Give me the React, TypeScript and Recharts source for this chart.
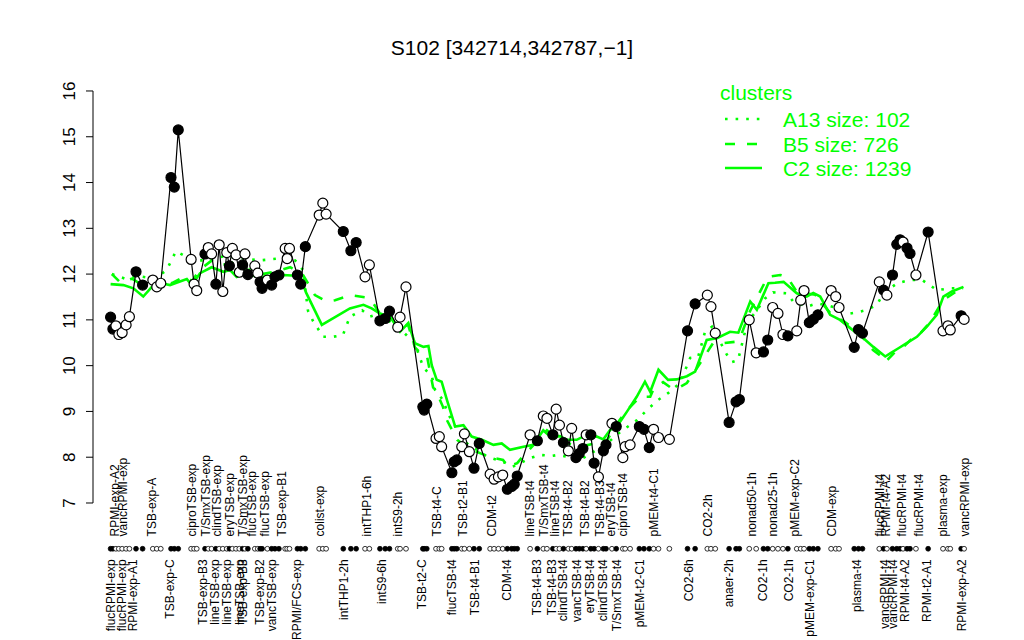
import React from "react";
import { ComposedChart, Line, XAxis, YAxis, ReferenceLine } from "recharts";

const FONT = '"Liberation Sans", Arimo, Arial, Helvetica, sans-serif';
const GREEN = "#00ff00";

// sample slot along the x axis, log2 expression, and marker kind (F = filled, O = open)
const samplePos = [
  2.3, 3.0, 3.9, 4.8, 5.8, 7.0, 8.0, 10.0, 12.0, 15.1,
  16.3, 17.5, 20.6, 21.6, 22.8, 26.7, 27.6, 28.4, 30.9, 31.9,
  32.9, 34.2, 35.2, 36.3, 37.5, 38.3, 39.2, 40.3, 41.3, 42.3,
  43.0, 43.9, 46.0, 46.9, 47.6, 48.2, 49.8, 51.1, 52.1, 53.3,
  55.2, 55.8, 56.5, 58.9, 59.9, 61.3, 65.5, 66.6, 67.6, 72.8,
  75.1, 76.7, 79.4, 80.7, 83.9, 85.5, 86.8, 89.3, 90.0, 91.8,
  96.9, 97.3, 98.1, 100.9, 101.9, 102.6, 105.7, 106.4, 107.2, 108.7,
  109.5, 111.0, 112.4, 114.0, 117.3, 118.5, 119.8, 121.1, 122.5, 123.8,
  124.6, 125.5, 129.4, 131.6, 133.4, 134.5, 136.3, 137.3, 138.3, 139.5,
  141.0, 142.0, 143.3, 144.3, 145.4, 146.4, 147.8, 148.8, 150.1, 151.6,
  152.4, 154.2, 155.5, 157.5, 158.2, 159.7, 162.5, 163.9, 165.5, 166.8,
  168.3, 171.6, 177.1, 179.4, 183.1, 184.2, 185.5, 189.7, 191.8, 192.8,
  195.8, 197.9, 200.1, 201.4, 202.9, 204.5, 206.0, 207.5, 210.2, 211.4,
  212.4, 214.0, 215.2, 216.6, 220.6, 222.0, 223.0, 227.6, 228.9, 230.1,
  235.2, 236.5, 237.5, 239.2, 240.5, 241.5, 242.4, 243.6, 244.5, 246.3,
  250.0, 254.5, 256.0, 256.7, 260.0, 260.9,
];
const sampleExpr = [
  11.06, 10.8, 10.87, 10.68, 10.72, 10.89, 11.07, 12.05, 11.76, 11.87,
  11.72, 11.8, 14.11, 13.9, 15.15, 12.32, 11.78, 11.64, 12.44, 12.58,
  12.44, 11.78, 12.64, 11.62, 12.47, 12.18, 12.56, 12.42, 12.04, 12.2,
  12.44, 11.99, 12.18, 12.02, 11.83, 11.69, 11.87, 11.76, 11.94, 11.98,
  12.56, 12.34, 12.56, 11.98, 11.78, 12.6, 13.29, 13.55, 13.31, 12.93,
  12.51, 12.69, 11.94, 12.2, 10.98, 11.03, 11.19, 10.84, 11.06, 11.72,
  9.1, 9.03, 9.16, 8.41, 8.45, 8.23, 7.66, 7.9, 7.94, 8.23,
  8.51, 8.12, 7.76, 8.3, 7.63, 7.52, 7.57, 7.61, 7.3, 7.36,
  7.41, 7.59, 8.49, 8.36, 8.9, 8.85, 8.49, 9.05, 8.7, 8.32,
  8.14, 8.63, 7.99, 8.08, 8.19, 8.49, 8.49, 7.87, 7.57, 8.14,
  8.27, 8.74, 8.67, 7.99, 8.23, 8.27, 8.67, 8.61, 8.21, 8.61,
  8.43, 8.39, 10.76, 11.35, 11.54, 11.29, 10.71, 8.76, 9.21, 9.26,
  11.0, 10.28, 10.3, 10.56, 11.27, 11.14, 10.68, 10.65, 10.76, 11.43,
  11.64, 10.94, 11.01, 11.11, 11.64, 11.51, 11.27, 10.4, 10.79, 10.71,
  11.83, 11.65, 11.54, 11.98, 12.65, 12.75, 12.7, 12.57, 12.45, 11.98,
  12.92, 10.76, 10.87, 10.78, 11.09, 11.01,
];
const sampleKind =
  "FFOOOOOFFO" + "OOFFFOOOFO" + "OFOOOFOOOF" + "OFOOFFOFFF" + "OOOFFFOOOF" +
  "FFOOFFFOOO" + "FFFOOOFFFO" + "OOFFOOOOFF" + "FFOFOOFOOF" + "OOFFFOFFOF" +
  "FOFOOOFFFO" + "OOFFOOOFFF" + "OOFFOOOFOO" + "OFFFOOOFFF" + "OFOFFFOFFO" + "FOOOFO";

// cluster profiles
const a13Pos = [
  2.7, 6.7, 11.2, 15.8, 19.3, 22.1, 24.2, 27.9, 32.4, 37.0, 41.5, 47.6, 54.5, 58.2, 60.6, 62.1,
  63.6, 66.7, 69.7, 72.7, 74.8, 78.5, 80.9, 83.9, 90.9, 94.5, 97.0, 99.7, 100.6, 103.0, 104.5,
  106.1, 108.2, 110.3, 113.3, 116.7, 119.4, 121.8, 124.0, 126.4, 129.4, 132.4, 136.1, 137.9,
  141.5, 144.5, 148.2, 152.7, 156.7, 161.8, 164.8, 168.2, 171.2, 174.8, 177.9, 180.3, 182.4,
  184.5, 189.1, 190.6, 192.4, 195.2, 198.2, 200.6, 203.0, 207.3, 209.1, 213.3, 216.4, 220.3,
  224.2, 226.4, 228.8, 231.5, 234.5, 236.4, 240.6, 244.5, 248.2, 252.7, 256.7, 260.6,
];
const a13Val = [
  12.0, 11.9, 11.95, 11.9, 12.09, 12.5, 12.42, 12.3, 12.3, 12.4, 12.35, 12.3, 12.35, 12.3, 12.09, 11.2,
  10.98, 10.63, 10.63, 10.67, 11.07, 11.21, 11.07, 11.14, 10.74, 10.49, 9.97, 9.75, 9.47, 9.25, 8.96,
  8.74, 8.52, 8.3, 8.16, 8.0, 7.94, 7.88, 7.79, 7.87, 7.98, 8.05, 8.03, 8.05,
  8.0, 7.94, 8.1, 8.3, 8.55, 8.81, 9.03, 9.25, 9.4, 9.62, 10.17, 10.19, 10.74,
  10.85, 10.23, 10.08, 10.12, 10.94, 11.22, 11.47, 11.6, 11.58, 11.4, 11.29, 11.36, 11.3,
  11.22, 11.14, 11.17, 11.22, 11.33, 11.58, 11.8, 11.87, 11.87, 11.65, 11.69, 11.69,
];
const b5Pos = [
  2.7, 5.2, 8.8, 12.1, 14.8, 17.9, 20.9, 24.8, 27.0, 29.4, 33.0, 36.1, 39.1, 41.5, 44.5, 48.2,
  52.1, 56.7, 60.6, 64.2, 67.8, 70.3, 74.8, 79.9, 81.9, 83.9, 87.0, 90.0, 92.4, 94.5, 96.1, 98.1,
  100.0, 101.2, 103.0, 104.2, 107.3, 110.6, 114.2, 117.3, 121.2, 122.7, 125.5, 127.0, 130.9,
  134.5, 138.5, 144.5, 149.1, 152.1, 156.1, 158.8, 162.7, 165.8, 166.7, 169.7, 172.4, 174.8,
  176.9, 179.9, 184.8, 187.6, 191.5, 193.0, 196.1, 200.9, 201.5, 205.2, 207.3, 210.3, 212.7,
  215.8, 220.3, 224.8, 229.4, 231.5, 233.3, 236.1, 237.0, 240.6, 242.1, 245.2, 246.7, 250.6,
  254.5, 260.6,
];
const b5Val = [
  12.0, 11.82, 11.9, 11.75, 11.85, 11.85, 11.8, 11.95, 11.85, 12.1, 12.3, 12.2, 12.25, 12.05, 12.1, 12.0,
  12.05, 12.15, 11.98, 11.54, 11.4, 11.43, 11.54, 11.49, 11.36, 11.14, 11.07, 10.8, 10.9, 10.4, 10.28, 10.23,
  9.53, 9.4, 9.1, 8.81, 8.38, 8.2, 8.09, 8.0, 7.94, 7.79, 7.87, 8.0, 8.3,
  8.59, 8.35, 8.23, 8.3, 8.3, 8.77, 9.03, 9.32, 9.32, 9.47, 9.64, 9.5, 9.53,
  9.62, 9.94, 10.49, 10.49, 10.52, 10.6, 11.2, 11.87, 11.94, 11.98, 11.94, 11.6, 11.58,
  11.55, 11.15, 10.95, 10.7, 10.49, 10.34, 10.19, 10.08, 10.34, 10.38, 10.6, 10.63, 10.95,
  11.43, 11.72,
];
const c2Pos = [
  2.3, 6.2, 9.2, 12.2, 14.8, 17.8, 20.3, 25.4, 26.9, 29.4, 32.9, 36.5, 38.5, 40.5, 43.5, 46.6,
  50.6, 54.6, 59.7, 61.5, 66.3, 74.8, 78.9, 81.4, 83.9, 87.0, 90.0, 92.5, 94.5, 97.1, 98.6, 99.6,
  101.1, 102.6, 104.2, 106.7, 109.2, 111.7, 114.8, 118.3, 120.8, 123.3, 127.4, 130.4, 133.4,
  135.5, 138.5, 140.5, 143.5, 146.6, 149.6, 151.6, 153.6, 156.7, 158.7, 161.7, 164.2, 165.8,
  168.3, 171.2, 173.8, 176.9, 179.4, 182.9, 186.0, 190.0, 192.5, 196.1, 198.1, 201.6, 203.6,
  206.2, 210.2, 213.2, 215.2, 217.3, 220.3, 223.3, 226.4, 230.4, 233.4, 237.0, 238.5, 241.0,
  243.5, 246.6, 249.6, 252.6, 254.6, 257.2, 260.7,
];
const c2Val = [
  11.78, 11.76, 11.69, 11.51, 11.72, 11.8, 11.76, 11.89, 11.76, 12.02, 12.15, 12.05, 12.09, 11.94, 12.03, 11.94,
  11.94, 11.98, 11.96, 11.6, 10.89, 11.25, 11.33, 11.25, 11.14, 11.07, 10.74, 10.93, 10.49, 10.41, 10.43, 10.01,
  9.69, 9.65, 9.25, 8.67, 8.7, 8.45, 8.38, 8.27, 8.3, 8.16, 8.23, 8.27, 8.59,
  8.45, 8.46, 8.38, 8.38, 8.49, 8.45, 8.39, 8.59, 8.78, 8.99, 9.32, 9.65, 9.43,
  9.91, 9.69, 9.7, 9.77, 9.87, 10.56, 10.6, 10.74, 10.72, 11.4, 11.22, 11.8, 11.81,
  11.83, 11.58, 11.51, 11.59, 11.51, 11.11, 11.0, 10.82, 10.6, 10.41, 10.2, 10.27, 10.38,
  10.49, 10.63, 10.85, 11.11, 11.51, 11.62, 11.72,
];

// condition names written above and below the sample rug
const upperLabels: [number, string][] = [
  [3.6, "RPMI-exp-A2"], [6.0, "vancRPMI-exp"], [14.8, "TSB-exp-A"], [26.9, "ciproTSB-exp"],
  [31.2, "T/SmxTSB-exp"], [34.6, "clindTSB-exp"], [38.5, "eryTSB-exp"], [42.3, "T/SmxTSB-exp"],
  [45.1, "flucTSB-exp"], [49.1, "flucTSB-exp"], [54.2, "TSB-exp-B1"], [65.8, "colist-exp"],
  [79.9, "intTHP1-6h"], [89.5, "intS9-2h"], [101.1, "TSB-t4-C"], [109.2, "TSB-t2-B1"],
  [117.8, "CDM-t2"], [129.4, "lineTSB-t4"], [133.6, "T/SmxTSB-t4"], [137.0, "lineTSB-t4"],
  [141.0, "TSB-t4-B2"], [146.1, "TSB-t4-B2"], [150.6, "TSB-t4-B3"], [153.8, "eryTSB-t4"],
  [157.7, "ciproTSB-t4"], [166.8, "pMEM-t4-C1"], [183.4, "CO2-2h"], [196.6, "nonad50-1h"],
  [203.1, "nonad25-1h"], [209.7, "pMEM-exp-C2"], [220.8, "CDM-exp"], [235.5, "flucRPMI-t4"],
  [237.2, "RPMI-t4-A2"], [242.0, "flucRPMI-t4"], [247.1, "flucRPMI-t4"], [254.6, "plasma-exp"],
  [261.2, "vancRPMI-exp"],
];
const lowerLabels: [number, string][] = [
  [2.3, "flucRPMI-exp"], [5.7, "flucRPMI-exp"], [9.0, "RPMI-exp-A1"], [20.3, "TSB-exp-C"],
  [30.4, "TSB-exp-B3"], [33.9, "lineTSB-exp"], [37.5, "lineTSB-exp"], [41.5, "lineTSB-exp"],
  [42.5, "TSB-exp-B3"], [47.6, "TSB-exp-B2"], [51.1, "vancTSB-exp"], [58.7, "RPMI/FCS-exp"],
  [73.0, "intTHP1-2h"], [84.5, "intS9-6h"], [96.6, "TSB-t2-C"], [105.7, "flucTSB-t4"],
  [112.7, "TSB-t4-B1"], [122.3, "CDM-t4"], [131.4, "TSB-t4-B3"], [136.0, "TSB-t4-B3"],
  [139.5, "clindTSB-t4"], [143.5, "vancTSB-t4"], [147.6, "eryTSB-t4"], [151.6, "clindTSB-t4"],
  [155.7, "T/SmxTSB-t4"], [162.7, "pMEM-t2-C1"], [177.4, "CO2-6h"], [189.8, "anaer-2h"],
  [200.1, "CO2-1h"], [207.7, "CO2-1h"], [214.2, "pMEM-exp-C1"], [228.4, "plasma-t4"],
  [237.0, "vancRPMI-t4"], [239.5, "vancRPMI-t4"], [243.0, "RPMI-t4-A2"], [249.6, "RPMI-t2-A1"],
  [260.2, "RPMI-exp-A2"],
];

const yTicks = [7, 8, 9, 10, 11, 12, 13, 14, 15, 16];

const X_MIN = -3.03;
const X_MAX = 264.5;
const Y_MIN = 4.007;
const Y_MAX = 16.36;
const RUG_Y = 6.0;
const UPPER_Y = 6.27;
const LOWER_Y = 5.77;
const AXIS_X = 93;

const samples = samplePos.map((x, i) => ({ x, v: sampleExpr[i], filled: sampleKind[i] === "F", rug: RUG_Y }));
const zip = (pos: number[], val: number[]) => pos.map((x, i) => ({ x, v: val[i] }));
const a13 = zip(a13Pos, a13Val);
const b5 = zip(b5Pos, b5Val);
const c2 = zip(c2Pos, c2Val);
const upper = upperLabels.map(([x, name]) => ({ x, y: UPPER_Y, name }));
const lower = lowerLabels.map(([x, name]) => ({ x, y: LOWER_Y, name }));

const YTick = ({ y, payload }: any) => (
  <g>
    <line x1={AXIS_X - 7} x2={AXIS_X} y1={y} y2={y} stroke="#000" strokeWidth={1} />
    <text
      x={AXIS_X - 23}
      y={y}
      transform={`rotate(-90 ${AXIS_X - 23} ${y})`}
      textAnchor="middle"
      dominantBaseline="central"
      fontSize={17}
      fontFamily={FONT}
      fill="#000"
    >
      {payload.value}
    </text>
  </g>
);

const sampleDot = (p: any) => {
  if (p.cx == null || p.cy == null) return <g key={`s${p.index}`} />;
  return (
    <circle key={`s${p.index}`} cx={p.cx} cy={p.cy} r={5} fill={p.payload.filled ? "#000" : "#fff"} stroke="#000" strokeWidth={1.2} />
  );
};

const rugDot = (p: any) => {
  if (p.cx == null || p.cy == null) return <g key={`r${p.index}`} />;
  return (
    <circle key={`r${p.index}`} cx={p.cx} cy={p.cy} r={2.4} fill={p.payload.filled ? "#000" : "#fff"} stroke="#000" strokeWidth={0.8} />
  );
};

const labelDot = (anchor: "start" | "end") => (p: any) => {
  if (p.cx == null || p.cy == null) return <g key={`l${anchor}${p.index}`} />;
  return (
    <text
      key={`l${anchor}${p.index}`}
      x={p.cx}
      y={p.cy}
      transform={`rotate(-90 ${p.cx} ${p.cy})`}
      textAnchor={anchor}
      dominantBaseline="central"
      fontSize={12}
      fontFamily={FONT}
      fill="#000"
    >
      {p.payload.name}
    </text>
  );
};

const legendRows = [
  { name: "A13 size: 102", dash: "2.6 8", y: 119 },
  { name: "B5 size: 726", dash: "10 12", y: 144 },
  { name: "C2 size: 1239", dash: undefined, y: 168 },
];

export default function App() {
  return (
    <div style={{ position: "absolute", left: 0, top: 0, width: 1024, height: 640, background: "#fff" }}>
      <ComposedChart width={1024} height={640} margin={{ top: 74.5, right: 48, bottom: 0, left: 63 }}>
        <XAxis type="number" dataKey="x" domain={[X_MIN, X_MAX]} hide allowDataOverflow />
        <YAxis
          type="number"
          domain={[Y_MIN, Y_MAX]}
          ticks={yTicks}
          interval={0}
          width={30}
          axisLine={false}
          tickLine={false}
          tick={<YTick />}
          allowDataOverflow
        />
        <ReferenceLine segment={[{ x: X_MIN, y: 7 }, { x: X_MIN, y: 16 }]} stroke="#000" strokeWidth={1} />
        <Line data={a13} dataKey="v" stroke={GREEN} strokeWidth={2.6} strokeDasharray="2.6 8" dot={false} activeDot={false} isAnimationActive={false} type="linear" />
        <Line data={b5} dataKey="v" stroke={GREEN} strokeWidth={2.6} strokeDasharray="10 12" dot={false} activeDot={false} isAnimationActive={false} type="linear" />
        <Line data={c2} dataKey="v" stroke={GREEN} strokeWidth={2.6} dot={false} activeDot={false} isAnimationActive={false} type="linear" />
        <Line data={samples} dataKey="v" stroke="#000" strokeWidth={1.2} dot={sampleDot} activeDot={false} isAnimationActive={false} type="linear" />
        <Line data={samples} dataKey="rug" stroke="none" dot={rugDot} activeDot={false} isAnimationActive={false} />
        <Line data={upper} dataKey="y" stroke="none" dot={labelDot("start")} activeDot={false} isAnimationActive={false} />
        <Line data={lower} dataKey="y" stroke="none" dot={labelDot("end")} activeDot={false} isAnimationActive={false} />
      </ComposedChart>
      <svg width={1024} height={640} style={{ position: "absolute", left: 0, top: 0, pointerEvents: "none" }}>
        <text x={512} y={47} textAnchor="middle" dominantBaseline="central" fontSize={21} fontFamily={FONT} fill="#000">
          S102 [342714,342787,−1]
        </text>
        <text x={720} y={92} dominantBaseline="central" fontSize={21} fontFamily={FONT} fill={GREEN}>
          clusters
        </text>
        {legendRows.map((r) => (
          <g key={r.name}>
            <line x1={725} x2={762} y1={r.y} y2={r.y} stroke={GREEN} strokeWidth={2.6} strokeDasharray={r.dash} />
            <text x={783} y={r.y} dominantBaseline="central" fontSize={21} fontFamily={FONT} fill={GREEN}>
              {r.name}
            </text>
          </g>
        ))}
      </svg>
    </div>
  );
}
